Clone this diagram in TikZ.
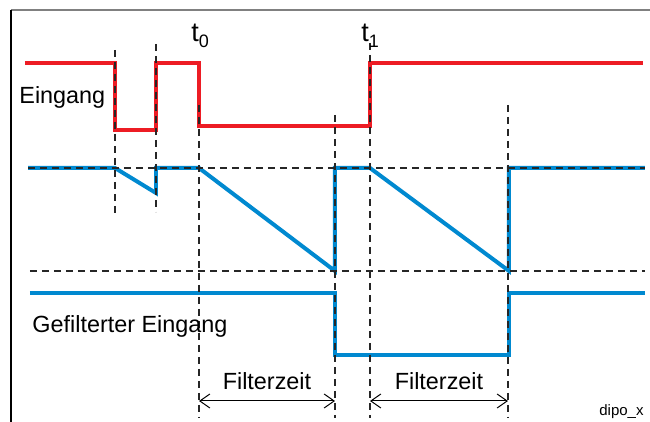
\documentclass[tikz,border=0pt]{standalone}
\usepackage{fontspec}
\setmainfont{Liberation Sans}
\usetikzlibrary{arrows.meta}

\definecolor{sigred}{RGB}{237,28,36}
\definecolor{sigblue}{RGB}{0,137,208}

\tikzset{
  redsig/.style={sigred,line width=2pt},
  bluesig/.style={sigblue,line width=2pt},
  guide/.style={black!85,line width=0.8pt,dash pattern=on 3.5pt off 2.5pt},
  span/.style={{Straight Barb[length=5pt,width=7pt]}-{Straight Barb[length=5pt,width=7pt]},line width=0.5pt},
  lbl/.style={inner sep=0pt,font=\fontsize{11.7}{14}\selectfont},
}

\begin{document}
\begin{tikzpicture}[x=0.5pt,y=-0.5pt]
  \useasboundingbox (0,0) rectangle (650,422);

  % frame
  \draw[gray,line width=1pt] (11,10) -- (650,10);
  \draw[line width=0.8pt] (11,10) -- (11,422);

  % input signal
  \draw[redsig] (25,63) -| (115,130) -| (156,63) -| (199,126) -| (370,63) -- (643,63);

  % filter counter
  \draw[bluesig] (28,168) -- (115,168) -- (156,193) -- (156,168) -- (199,168)
    -- (335,271) -- (335,168) -- (370,168) -- (509,271) -- (509,168) -- (645,168);

  % filtered output
  \draw[bluesig] (30,293) -| (335,355) -| (509,293) -- (645,293);

  % thresholds
  \draw[guide] (28,168) -- (645,168);
  \draw[guide] (30,271) -- (645,271);

  % time marks
  \draw[guide] (115,50) -- (115,213);
  \draw[guide] (156,44) -- (156,212);
  \foreach \x/\y in {199/105, 335/115, 370/43, 508/105}
    {\draw[guide] (\x,\y) -- (\x,418);}

  % labels
  \node[lbl,anchor=base west] (ein) at (19,104) {Eingang};
  \node[lbl,anchor=base west] (gef) at (32,333) {Gefilterter Eingang};
  \node[anchor=base west,inner sep=0pt,font=\fontsize{13.5}{16}\selectfont] (t0) at (191,42)
    {t\raisebox{-3pt}{\fontsize{9}{10}\selectfont 0}};
  \node[anchor=base west,inner sep=0pt,font=\fontsize{13.5}{16}\selectfont] (t1) at (361,42)
    {t\raisebox{-3pt}{\fontsize{9}{10}\selectfont 1}};

  % filter time spans
  \coordinate (fa0) at (199,401);
  \coordinate (fb0) at (335,401);
  \coordinate (fa1) at (370,401);
  \coordinate (fb1) at (508,401);
  \draw[span] (fa0) -- (fb0);
  \draw[span] (fa1) -- (fb1);
  \node[lbl,anchor=base] (fz0) at (267,390) {Filterzeit};
  \node[lbl,anchor=base] (fz1) at (439,390) {Filterzeit};

  \node[anchor=base east,inner sep=0pt,font=\fontsize{7.5}{9}\selectfont] (tag) at (644,416) {dipo\_x};
\end{tikzpicture}
\end{document}
